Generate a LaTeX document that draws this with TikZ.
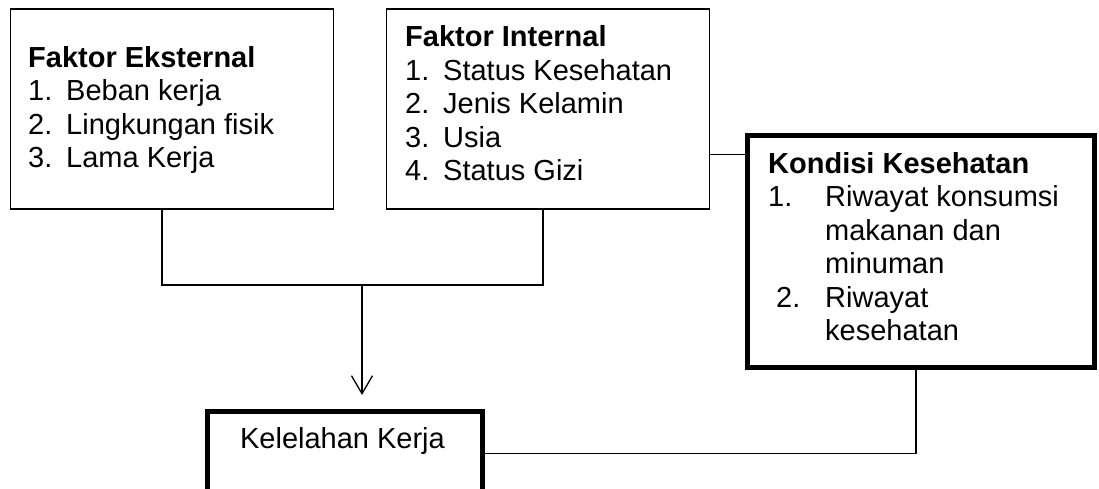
\documentclass[tikz,border=0pt]{standalone}
\usepackage{fontspec}
\setmainfont{Liberation Sans}
\usetikzlibrary{arrows.meta}
\begin{document}
\begin{tikzpicture}[x=1pt,y=-1pt,
  thinbox/.style={draw, line width=1.3pt, inner sep=0pt, anchor=north west},
  thickbox/.style={draw, line width=5pt, inner sep=0pt, anchor=north west},
  conn/.style={line width=1.3pt},
  txt/.style={inner sep=0pt, anchor=base west, font=\fontsize{29}{33.5}\selectfont},
  ctxt/.style={inner sep=0pt, anchor=base, font=\fontsize{29}{33.5}\selectfont}]
\useasboundingbox (0,0) rectangle (1099,488);
\clip (0,0) rectangle (1099,488);
% boxes
\node[thinbox, minimum width=323pt, minimum height=200pt] (ext) at (10,8.3) {};
\node[thinbox, minimum width=323pt, minimum height=200pt] (int) at (386,8.3) {};
\node[thickbox, minimum width=347pt, minimum height=232.5pt] (kon) at (745,132.5) {};
\node[thickbox, minimum width=275pt, minimum height=84pt] (kel) at (205,409) {};
% texts
\node[txt] (extT) at (28,67) {\begin{tabular}[t]{@{}l@{}l@{}}
\multicolumn{2}{@{}l@{}}{\bfseries Faktor Eksternal}\\
\makebox[38pt][l]{1.} & Beban kerja\\
\makebox[38pt][l]{2.} & Lingkungan fisik\\
\makebox[38pt][l]{3.} & Lama Kerja
\end{tabular}};
\node[txt] (intT) at (405,46.5) {\begin{tabular}[t]{@{}l@{}l@{}}
\multicolumn{2}{@{}l@{}}{\bfseries Faktor Internal}\\
\makebox[38pt][l]{1.} & Status Kesehatan\\
\makebox[38pt][l]{2.} & Jenis Kelamin\\
\makebox[38pt][l]{3.} & Usia\\
\makebox[38pt][l]{4.} & Status Gizi
\end{tabular}};
\node[txt] (konT) at (768,173) {\begin{tabular}[t]{@{}l@{}l@{}}
\multicolumn{2}{@{}l@{}}{\bfseries Kondisi Kesehatan}\\
\makebox[57pt][l]{1.} & Riwayat konsumsi\\
 & makanan dan\\
 & minuman\\
\makebox[57pt][l]{\hspace{8pt}2.} & Riwayat\\
 & kesehatan
\end{tabular}};
\node[ctxt] (kelT) at (342.5,448) {Kelelahan Kerja};
% connectors
\coordinate (mid) at (362,285);
\coordinate (intR) at ([yshift=-146pt]int.north east);
\draw[conn] (ext.south west) ++(152,0) |- (mid) -| ([xshift=157pt]int.south west);
\draw[conn, -{Straight Barb[length=18pt, width=21pt]}, shorten >=14pt] (mid) -- (mid |- kel.north);
\draw[conn] (intR) -- (kon.west |- intR);
\draw[conn] ([xshift=171pt]kon.south west) |- (kel.east);
\end{tikzpicture}
\end{document}
